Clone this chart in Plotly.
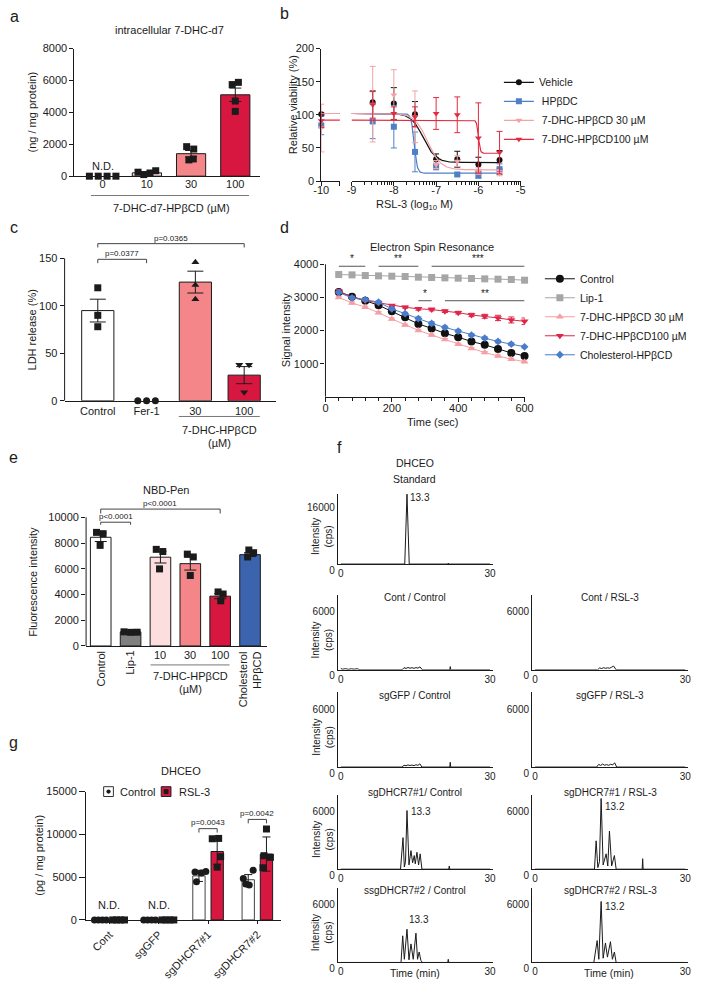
import numpy as np
import plotly.graph_objects as go

W, H = 706, 1000
FONT = "Liberation Sans, Arial, Helvetica, sans-serif"
INK = "#1b1b1b"
CRIMSON = "#d7173f"
SALMON = "#f4868a"
PINK = "#fcdede"
CHOL_BLUE = "#3b63ae"
LIP_GRAY = "#808080"

# ===================== DATA =====================
# (a) intracellular 7-DHC-d7 (ng / mg protein)
a_doses = ["0", "10", "30", "100"]
a_mean = [None, 210, 1410, 5100]
a_sem = [None, 60, 200, 420]
a_pts_0 = [0, 0, 0, 0]
a_pts_10 = [250, 100, 200, 340]
a_pts_30 = [1850, 1700, 1020, 1080]
a_pts_100 = [5740, 5880, 4710, 4060]

# (b) relative viability vs RSL-3 (log10 M)
b_logx = [-10, -8.5, -8, -7.5, -7, -6.5, -6, -5.5]
b_vehicle = [101, 119, 117, 101, 33, 33, 25, 32]
b_vehicle_err = [2, 17, 24, 19, 8, 12, 11, 14]
b_hpbdc = [84, 90, 82, 44, 22, 10, 8, 18]
b_hpbdc_err = [14, 26, 32, 30, 5, 2, 3, 8]
b_dhc30 = [80, 116, 130, 97, 25, 30, 15, 12]
b_dhc30_err = [36, 57, 38, 39, 6, 8, 5, 4]
b_dhc100 = [91, 115, 102, 97, 102, 100, 65, 43]
b_dhc100_err = [10, 20, 10, 15, 24, 27, 53, 32]
# fitted 4-parameter curves: top, bottom, logIC50, Hill slope
b_fit_vehicle = [102, 28, -7.30, 3.0]
b_fit_hpbdc = [102, 12, -7.52, 12.0]
b_fit_dhc30 = [102, 17, -7.20, 2.8]
b_fit_dhc100 = [92, 42, -6.00, 20.0]
b_names = ["Vehicle", " HPβDC", " 7-DHC-HPβCD 30 µM", " 7-DHC-HPβCD100 µM"]

# (c) LDH release (%)
c_groups = ["Control", "Fer-1", "30", "100"]
c_mean = [95, None, 125, 27]
c_sem = [12, None, 11.5, 9]
c_pts_control = [119, 90, 78]
c_pts_fer1 = [0, 0, 0]
c_pts_30 = [146, 122, 107]
c_pts_100 = [38, 38, 9]

# (d) Electron spin resonance signal
d_time = [40, 80, 120, 160, 200, 240, 280, 320, 360, 400, 440, 480, 520, 560, 600]
d_control = [3160, 3020, 2900, 2765, 2580, 2400, 2200, 2065, 1915, 1800, 1670, 1570, 1440, 1325, 1235]
d_control_err = [40, 40, 40, 40, 40, 40, 40, 40, 45, 45, 50, 55, 60, 65, 70]
d_lip1 = [3690, 3680, 3660, 3650, 3640, 3630, 3610, 3600, 3590, 3580, 3570, 3560, 3550, 3540, 3520]
d_lip1_err = [20, 20, 20, 20, 20, 20, 20, 20, 20, 20, 20, 20, 20, 20, 20]
d_dhc30 = [3000, 2835, 2705, 2540, 2350, 2165, 2005, 1865, 1730, 1590, 1460, 1335, 1235, 1135, 1060]
d_dhc30_err = [30, 30, 30, 30, 30, 30, 30, 30, 30, 30, 30, 30, 30, 30, 30]
d_dhc100 = [3200, 3000, 2905, 2835, 2755, 2705, 2655, 2635, 2585, 2540, 2470, 2430, 2380, 2320, 2280]
d_dhc100_err = [30, 30, 30, 30, 30, 30, 40, 40, 40, 40, 50, 60, 80, 90, 100]
d_chol = [3150, 2985, 2935, 2855, 2655, 2510, 2360, 2215, 2095, 1985, 1865, 1770, 1670, 1590, 1510]
d_chol_err = [30, 30, 30, 40, 40, 40, 50, 50, 40, 40, 40, 40, 40, 40, 40]
d_names = ["Control", "Lip-1", "7-DHC-HPβCD 30 µM", "7-DHC-HPβCD100 µM", "Cholesterol-HPβCD"]

# (e) NBD-Pen fluorescence intensity
e_groups = ["Control", "Lip-1", "10", "30", "100", "Cholesterol<br>HPβCD"]
e_mean = [8450, 1100, 6900, 6400, 3870, 7100]
e_sem = [330, 30, 450, 500, 200, 150]
e_pts_control = [8830, 8730, 7820]
e_pts_lip1 = [1100, 1060, 1070]
e_pts_10 = [7510, 7340, 5990]
e_pts_30 = [7140, 6920, 5480]
e_pts_100 = [4200, 4040, 3510]
e_pts_chol = [7460, 7250, 6920]

# (f) DHCEO chromatograms: time (min), intensity (cps)
f_std_t = [0, 12.85, 13.3, 13.75, 21.5, 21.6, 21.7, 30]
f_std_i = [0, 0, 17900, 0, 0, 250, 0, 0]
f_cont_ctrl_t = [0, 0.4, 0.9, 1.5, 2.1, 2.7, 3.3, 3.8, 12.3, 12.7, 13.1, 13.5, 13.9, 14.3, 14.7, 15.1, 15.5, 15.9, 16.4, 21.9, 22.0, 22.1, 30]
f_cont_ctrl_i = [120, 60, 110, 50, 100, 60, 110, 0, 0, 200, 130, 220, 150, 200, 140, 210, 160, 280, 0, 0, 300, 0, 0]
f_cont_rsl_t = [0, 12.5, 12.9, 13.3, 13.7, 14.1, 14.5, 14.9, 15.3, 15.7, 16.2, 30]
f_cont_rsl_i = [0, 0, 180, 120, 200, 140, 190, 150, 250, 350, 0, 0]
f_gfp_ctrl_t = [0, 12.3, 12.7, 13.1, 13.5, 13.9, 14.3, 14.7, 15.1, 15.5, 15.9, 16.3, 21.9, 22.0, 22.1, 30]
f_gfp_ctrl_i = [0, 0, 170, 120, 200, 140, 190, 130, 220, 160, 300, 0, 0, 450, 0, 0]
f_gfp_rsl_t = [0, 12.3, 12.7, 13.1, 13.5, 13.9, 14.3, 14.7, 15.1, 15.5, 15.9, 16.3, 30]
f_gfp_rsl_i = [0, 0, 250, 150, 280, 170, 230, 160, 260, 200, 400, 0, 0]
f_sg1_ctrl_t = [0, 12.0, 12.5, 12.77, 13.0, 13.3, 13.7, 14.1, 14.43, 14.76, 14.96, 15.3, 15.63, 15.95, 16.3, 21.7, 21.8, 21.9, 30]
f_sg1_ctrl_i = [0, 0, 2960, 200, 700, 5500, 400, 1740, 600, 1280, 500, 1590, 400, 1440, 0, 0, 300, 0, 0]
f_sg1_rsl_t = [0, 11.87, 12.2, 12.54, 12.87, 13.2, 13.6, 14.2, 14.53, 14.86, 15.3, 15.85, 16.2, 21.4, 21.5, 21.6, 30]
f_sg1_rsl_i = [0, 0, 2660, 150, 700, 6630, 400, 1440, 300, 3580, 300, 1280, 0, 0, 980, 0, 0]
f_sg2_ctrl_t = [0, 12.1, 12.44, 12.77, 13.3, 13.7, 14.1, 14.56, 15.1, 15.42, 15.75, 16.08, 16.4, 21.5, 21.6, 21.7, 30]
f_sg2_ctrl_i = [0, 0, 2500, 300, 3120, 250, 1740, 300, 2750, 300, 980, 200, 0, 0, 300, 0, 0]
f_sg2_rsl_t = [0, 11.74, 12.4, 12.74, 13.2, 13.6, 14.06, 14.46, 15.06, 15.45, 15.85, 16.2, 30]
f_sg2_rsl_i = [0, 0, 2050, 300, 5720, 400, 1830, 500, 1950, 300, 980, 0, 0]
f_titles = ["Cont / Control", "Cont / RSL-3", "sgGFP / Control", "sgGFP / RSL-3",
            "sgDHCR7#1/ Control", "sgDHCR7#1 / RSL-3", "ssgDHCR7#2 / Control", "sgDHCR7#2 / RSL-3"]

# (g) DHCEO (pg / mg protein)
g_groups = ["Cont", "sgGFP", "sgDHCR7#1", "sgDHCR7#2"]
g_ctrl_mean = [None, None, 5150, 4700]
g_ctrl_sd = [None, None, 650, 600]
g_rsl_mean = [None, None, 8000, 7700]
g_rsl_sd = [None, None, 1500, 2000]
g_ctrl_pts_cont = [0, 0, 0, 0]
g_ctrl_pts_gfp = [0, 0, 0, 0]
g_ctrl_pts_sg1 = [5600, 5500, 5650, 4450]
g_ctrl_pts_sg2 = [5800, 4850, 4080, 4190]
g_rsl_pts_cont = [0, 0, 0, 0]
g_rsl_pts_gfp = [0, 0, 0, 0]
g_rsl_pts_sg1 = [9490, 9530, 7390, 6170]
g_rsl_pts_sg2 = [10630, 7510, 7320, 6100]

# ===================== HELPERS =====================
fig = go.Figure()
LAY = {}
SH = []
AN = []


def xdom(rng, zero_px, k):
    return [(zero_px + rng[0] * k) / W, (zero_px + rng[1] * k) / W]


def ydom(rng, zero_px, k):
    return [1 - (zero_px - rng[0] * k) / H, 1 - (zero_px - rng[1] * k) / H]


def pdom_x(p0, p1):
    return [p0 / W, p1 / W]


def pdom_y(top, bot):
    return [1 - bot / H, 1 - top / H]


BASE_AX = dict(showline=True, linecolor=INK, linewidth=1, showgrid=False, zeroline=False,
               fixedrange=True, ticks="", tickcolor=INK, tickwidth=1,
               tickfont=dict(size=11, color=INK, family=FONT))


def set_x(i, rng, dom, anchor, **kw):
    d = dict(BASE_AX, range=rng, domain=dom, anchor=anchor)
    d.update(kw)
    LAY["xaxis" if i == 1 else "xaxis%d" % i] = d


def set_y(i, rng, dom, anchor, **kw):
    d = dict(BASE_AX, range=rng, domain=dom, anchor=anchor)
    d.update(kw)
    LAY["yaxis" if i == 1 else "yaxis%d" % i] = d


def note(text, x, y, size=11, **kw):
    d = dict(text=text, x=x / W, y=1 - y / H, xref="paper", yref="paper", showarrow=False,
             font=dict(size=size, color=INK, family=FONT), xanchor="center", yanchor="middle")
    d.update(kw)
    AN.append(d)


def dnote(text, xa, ya, x, y, size=8, **kw):
    d = dict(text=text, x=x, y=y, xref=xa, yref=ya, showarrow=False,
             font=dict(size=size, color="#222222", family=FONT), xanchor="center", yanchor="middle")
    d.update(kw)
    AN.append(d)


def pline(x0, y0, x1, y1, w=1, color="#555"):
    SH.append(dict(type="line", xref="paper", yref="paper", x0=x0 / W, x1=x1 / W,
                   y0=1 - y0 / H, y1=1 - y1 / H, line=dict(color=color, width=w)))


def prect(x0, y0, x1, y1, fill, line="#222", w=1):
    SH.append(dict(type="rect", xref="paper", yref="paper", x0=x0 / W, x1=x1 / W,
                   y0=1 - y1 / H, y1=1 - y0 / H, fillcolor=fill, line=dict(color=line, width=w)))


def pcircle(cx, cy, r, fill):
    SH.append(dict(type="circle", xref="paper", yref="paper", x0=(cx - r) / W, x1=(cx + r) / W,
                   y0=1 - (cy + r) / H, y1=1 - (cy - r) / H, fillcolor=fill, line=dict(width=0)))


def bracket(xa, ya, x0, x1, y, drop, color="#444"):
    SH.append(dict(type="path", xref=xa, yref=ya,
                   path="M %f,%f L %f,%f L %f,%f L %f,%f" % (x0, y - drop, x0, y, x1, y, x1, y - drop),
                   line=dict(color=color, width=1)))


def spine(xa, ya, top):
    SH.append(dict(type="line", xref=xa + " domain", yref=ya, x0=0, x1=0, y0=0, y1=top,
                   line=dict(color=INK, width=1)))


def bars(xa, ya, xs, means, errs, colors, width, cap):
    fig.add_trace(go.Bar(x=xs, y=means, width=width,
                         marker=dict(color=colors, line=dict(color=INK, width=1)),
                         error_y=dict(type="data", array=errs, color=INK, thickness=1, width=cap),
                         xaxis=xa, yaxis=ya, showlegend=False, hoverinfo="skip"))


def points(xa, ya, center, jit, vals, symbol, size=7):
    fig.add_trace(go.Scatter(x=[center + j for j in jit], y=vals, mode="markers",
                             marker=dict(symbol=symbol, size=size, color=INK, line=dict(width=0)),
                             xaxis=xa, yaxis=ya, cliponaxis=False, showlegend=False, hoverinfo="skip"))


# ===================== (a) =====================
a_x = list(range(len(a_doses)))
set_x(1, [-0.64, 3.55], xdom([-0.64, 3.55], 97, 45.3), "y", tickvals=a_x, ticktext=a_doses,
      ticklabelstandoff=-2)
set_y(1, [0, 8000], ydom([0, 8000], 173.3, 130 / 8000), "x",
      tickvals=[0, 2000, 4000, 6000, 8000], tickformat="d", ticks="outside", ticklen=4)
bars("x", "y", a_x, a_mean, a_sem, ["white", PINK, SALMON, CRIMSON], 0.66, 6)
for i, pts, jit in zip(a_x, [a_pts_0, a_pts_10, a_pts_30, a_pts_100],
                       [[-0.3, -0.1, 0.1, 0.3], [-0.2, -0.07, 0.07, 0.2],
                        [-0.1, 0.06, -0.05, 0.05], [-0.07, 0.07, 0.0, 0.0]]):
    points("x", "y", i, jit, pts, "square", 7)
dnote("N.D.", "x", "y", 0, 620, size=11)
note("intracellular 7-DHC-d7", 165, 24, 11)
note("(ng / mg protein)", 25, 108, 11, textangle=-90)
pline(85, 193, 247, 193, 1, "#777")
note("7-DHC-d7-HPβCD (µM)", 168, 206, 11)

# ===================== (b) =====================
b_minor = [d + np.log10(m) for d in range(-9, -5) for m in range(2, 10)]
set_x(2, [-10, -9.56], xdom([-10, -9.56], 754.3, 43.33), "y2",
      tickvals=[-10], ticktext=["-10"], ticks="outside", ticklen=4, ticklabelstandoff=-5,
      minor=dict(tickmode="array", tickvals=[-9.56], ticks="outside", ticklen=4, tickcolor=INK))
set_x(3, [-9, -5], xdom([-9, -5], 742, 43.33), "y2",
      tickvals=[-9, -8, -7, -6, -5], ticktext=["-9", "-8", "-7", "-6", "-5"], ticks="outside", ticklen=4,
      ticklabelstandoff=-5,
      minor=dict(tickmode="array", tickvals=b_minor, ticks="outside", ticklen=2.5, tickcolor=INK))
set_y(2, [0, 200], ydom([0, 200], 178.3, 0.675), "x2",
      tickvals=[0, 50, 100, 150, 200], ticks="outside", ticklen=4)

b_specs = [
    (b_names[0], b_vehicle, b_vehicle_err, b_fit_vehicle, "#111111", "circle"),
    (b_names[1], b_hpbdc, b_hpbdc_err, b_fit_hpbdc, "#4f80c6", "square"),
    (b_names[2], b_dhc30, b_dhc30_err, b_fit_dhc30, "#f4a2a7", "triangle-down"),
    (b_names[3], b_dhc100, b_dhc100_err, b_fit_dhc100, "#e42a3f", "triangle-down"),
]
for name, vals, errs, fit, col, sym in b_specs:
    top, bottom, logic50, hill = fit
    for xa, lo, hi in (("x2", -10, -9.56), ("x3", -9, -5.5)):
        xs = np.linspace(lo, hi, 300)
        ys = bottom + (top - bottom) / (1 + 10 ** ((xs - logic50) * hill))
        fig.add_trace(go.Scatter(x=xs, y=ys, mode="lines", line=dict(color=col, width=1.2),
                                 xaxis=xa, yaxis="y2", showlegend=False, hoverinfo="skip"))
    fig.add_trace(go.Scatter(x=b_logx[:1], y=vals[:1], mode="markers",
                             error_y=dict(type="data", array=errs[:1], color=col, thickness=1, width=3),
                             marker=dict(symbol=sym, size=6, color=col), xaxis="x2", yaxis="y2",
                             cliponaxis=False, showlegend=False, hoverinfo="skip"))
    fig.add_trace(go.Scatter(x=b_logx[1:], y=vals[1:], mode="markers",
                             error_y=dict(type="data", array=errs[1:], color=col, thickness=1, width=3),
                             marker=dict(symbol=sym, size=6, color=col), xaxis="x3", yaxis="y2",
                             cliponaxis=False, showlegend=False, hoverinfo="skip"))
    fig.add_trace(go.Scatter(x=[None], y=[None], mode="lines+markers", name=name,
                             line=dict(color=col, width=1.2), marker=dict(symbol=sym, size=6, color=col),
                             xaxis="x3", yaxis="y2", legend="legend", showlegend=True))
note("Relative viability (%)", 292, 100, 11, textangle=-90)
note("RSL-3 (log<sub>10</sub> M)", 417, 203, 11)

# ===================== (c) =====================
c_x = list(range(len(c_groups)))
set_x(4, [-0.68, 3.66], xdom([-0.68, 3.66], 92, 50), "y3", tickvals=c_x, ticktext=c_groups)
set_y(3, [0, 180], ydom([0, 180], 402, 0.9667), "x4", showline=False,
      tickvals=[0, 50, 100, 150], ticks="outside", ticklen=4)
spine("x4", "y3", 150)
bars("x4", "y3", c_x, c_mean, c_sem, ["white", "white", SALMON, CRIMSON], 0.66, 8)
points("x4", "y3", 0, [0, 0, 0], c_pts_control, "square", 7)
points("x4", "y3", 1, [-0.18, 0, 0.18], c_pts_fer1, "circle", 7)
points("x4", "y3", 2, [0, 0, 0], c_pts_30, "triangle-up", 7)
points("x4", "y3", 3, [-0.1, 0.1, 0], c_pts_100, "triangle-down", 7)
bracket("x4", "y3", 0, 1, 149, 4)
dnote("p=0.0377", "x4", "y3", 0.5, 155)
bracket("x4", "y3", 0, 3, 165.5, 4)
dnote("p=0.0365", "x4", "y3", 1.5, 171)
note("LDH release (%)", 25, 330, 11, textangle=-90)
pline(175, 418, 258, 418, 1, "#777")
note("7-DHC-HPβCD", 217, 432, 11)
note("(µM)", 217, 445, 11)

# ===================== (d) =====================
d_minor = list(range(0, 601, 40))
set_x(5, [0, 600], xdom([0, 600], 325.3, 0.34), "y4", tickvals=[0, 200, 400, 600],
      ticks="outside", ticklen=4, ticklabelstandoff=-3,
      minor=dict(tickmode="array", tickvals=d_minor, ticks="outside", ticklen=3, tickcolor=INK))
set_y(4, [0, 4400], ydom([0, 4400], 398, 0.03375), "x5", showline=False,
      tickvals=[1000, 2000, 3000, 4000], tickformat="d", ticks="outside", ticklen=4)
spine("x5", "y4", 4000)
d_specs = [
    (d_names[0], d_control, d_control_err, "#111111", "circle", 8),
    (d_names[1], d_lip1, d_lip1_err, "#a6a6a6", "square", 7),
    (d_names[2], d_dhc30, d_dhc30_err, "#f59ea3", "triangle-up", 7),
    (d_names[3], d_dhc100, d_dhc100_err, "#df2647", "triangle-down", 7),
    (d_names[4], d_chol, d_chol_err, "#4a7ccc", "diamond", 6),
]
for name, vals, errs, col, sym, sz in d_specs:
    fig.add_trace(go.Scatter(x=d_time, y=vals, mode="lines+markers", name=name,
                             error_y=dict(type="data", array=errs, color=col, thickness=1, width=3),
                             line=dict(color=col, width=1), marker=dict(symbol=sym, size=sz, color=col),
                             xaxis="x5", yaxis="y4", legend="legend2", showlegend=True, cliponaxis=False))
for x0, x1, y, stars in [(40, 120, 3940, "*"), (160, 280, 3940, "**"), (320, 600, 3940, "***"),
                         (280, 320, 2900, "*"), (360, 600, 2900, "**")]:
    SH.append(dict(type="line", xref="x5", yref="y4", x0=x0, x1=x1, y0=y, y1=y,
                   line=dict(color="#555", width=1)))
    dnote(stars, "x5", "y4", (x0 + x1) / 2, y, size=10, yanchor="bottom")
note("Electron Spin Resonance", 434, 245, 11)
note("Signal intensity", 285, 330, 11, textangle=-90)
note("Time (sec)", 435, 424, 11)

# ===================== (e) =====================
e_x = list(range(len(e_groups)))
set_x(6, [-0.49, 5.56], xdom([-0.49, 5.56], 95, 30.6), "y5", showticklabels=False)
set_y(5, [0, 11800], ydom([0, 11800], 651.7, 0.0131), "x6", showline=False,
      tickvals=[0, 2000, 4000, 6000, 8000, 10000], tickformat="d", ticks="outside", ticklen=4)
spine("x6", "y5", 10000)
bars("x6", "y5", e_x, e_mean, e_sem, ["white", LIP_GRAY, PINK, SALMON, CRIMSON, CHOL_BLUE], 0.69, 6)
for i, pts, jit in zip(e_x, [e_pts_control, e_pts_lip1, e_pts_10, e_pts_30, e_pts_100, e_pts_chol],
                       [[-0.14, 0.08, -0.02], [-0.22, 0, 0.22], [-0.14, 0.08, -0.03],
                        [-0.1, 0.1, 0], [-0.07, 0.1, 0.02], [-0.04, 0.12, -0.08]]):
    points("x6", "y5", i, jit, pts, "square", 7)
for i in (0, 1, 5):
    AN.append(dict(text=e_groups[i], x=i, y=1 - 655 / H, xref="x6", yref="paper", showarrow=False,
                   textangle=-90, xanchor="center", yanchor="top", align="right",
                   font=dict(size=11, color=INK, family=FONT)))
for i in (2, 3, 4):
    AN.append(dict(text=e_groups[i], x=i, y=1 - 661 / H, xref="x6", yref="paper", showarrow=False,
                   xanchor="center", yanchor="middle", font=dict(size=11, color=INK, family=FONT)))
bracket("x6", "y5", 0, 1, 9620, 200)
dnote("p<0.0001", "x6", "y5", 0.5, 10050)
bracket("x6", "y5", 0, 4, 10640, 340)
dnote("p<0.0001", "x6", "y5", 2, 11070)
note("NBD-Pen", 162, 493, 11)
note("Fluorescence intensity", 26, 586, 11, textangle=-90)
pline(146, 671, 227, 671, 1, "#777")
note("7-DHC-HPβCD", 187, 682, 11)
note("(µM)", 187, 696, 11)

# ===================== (g) =====================
g_x = list(range(len(g_groups)))
G_OFF = 0.185
set_x(7, [-0.475, 3.485], xdom([-0.475, 3.485], 104, 50.5), "y6", tickvals=g_x, ticktext=g_groups,
      tickangle=-45, ticks="outside", ticklen=3)
set_y(6, [0, 15000], ydom([0, 15000], 930.7, 0.008713), "x7",
      tickvals=[0, 5000, 10000, 15000], tickformat="d", ticks="outside", ticklen=6)
fig.add_trace(go.Bar(x=[i - G_OFF for i in g_x], y=g_ctrl_mean, width=0.25, name="Control",
                     marker=dict(color="white", line=dict(color="#444", width=1)),
                     error_y=dict(type="data", array=g_ctrl_sd, color=INK, thickness=1, width=4),
                     xaxis="x7", yaxis="y6", showlegend=False, hoverinfo="skip"))
fig.add_trace(go.Bar(x=[i + G_OFF for i in g_x], y=g_rsl_mean, width=0.25, name="RSL-3",
                     marker=dict(color=CRIMSON, line=dict(color=INK, width=1)),
                     error_y=dict(type="data", array=g_rsl_sd, color=INK, thickness=1, width=4),
                     xaxis="x7", yaxis="y6", showlegend=False, hoverinfo="skip"))
g_jit_nd = [-0.12, -0.04, 0.04, 0.12]
for i, pts, jit in zip(g_x, [g_ctrl_pts_cont, g_ctrl_pts_gfp, g_ctrl_pts_sg1, g_ctrl_pts_sg2],
                       [g_jit_nd, g_jit_nd, [-0.08, 0.05, 0.14, -0.05], [0.1, -0.1, 0.02, -0.05]]):
    points("x7", "y6", i - G_OFF, jit, pts, "circle", 7)
for i, pts, jit in zip(g_x, [g_rsl_pts_cont, g_rsl_pts_gfp, g_rsl_pts_sg1, g_rsl_pts_sg2],
                       [g_jit_nd, g_jit_nd, [-0.1, 0.03, 0.07, 0.0], [0.0, -0.05, 0.08, -0.07]]):
    points("x7", "y6", i + G_OFF, jit, pts, "square", 7)
for i in (0, 1):
    dnote("N.D.", "x7", "y6", i, 1720, size=11)
bracket("x7", "y6", 2 - G_OFF, 2 + G_OFF, 10670, 460)
dnote("p=0.0043", "x7", "y6", 2, 11360)
bracket("x7", "y6", 3 - G_OFF, 3 + G_OFF, 11750, 460)
dnote("p=0.0042", "x7", "y6", 3, 12400)
note("DHCEO", 177, 779, 11)
note("(pg / mg protein)", 32, 865, 11, textangle=-90)
# legend (Control / RSL-3)
prect(98, 795, 108, 805, "white", "#333")
pcircle(103, 800, 2.2, INK)
note("Control", 113, 800, 11, xanchor="left")
prect(157, 795, 167, 805, CRIMSON, "#222")
prect(160, 798, 164, 802, INK, INK)
note("RSL-3", 173, 800, 11, xanchor="left")

# ===================== (f) =====================
f_series = [(f_std_t, f_std_i), (f_cont_ctrl_t, f_cont_ctrl_i), (f_cont_rsl_t, f_cont_rsl_i),
            (f_gfp_ctrl_t, f_gfp_ctrl_i), (f_gfp_rsl_t, f_gfp_rsl_i),
            (f_sg1_ctrl_t, f_sg1_ctrl_i), (f_sg1_rsl_t, f_sg1_rsl_i),
            (f_sg2_ctrl_t, f_sg2_ctrl_i), (f_sg2_rsl_t, f_sg2_rsl_i)]
f_cols = [(338, 497), (537, 697)]
f_rows = [(496.7, 568.3), (600, 676), (699, 775), (803, 879), (898, 974)]
f_title_y = [None, 602, 702, 801, 901]
FT = dict(size=10, color=INK, family=FONT)
for k, (ts, vs) in enumerate(f_series):
    xi, yi = 8 + k, 7 + k
    if k == 0:
        col, row = 0, 0
        yr, yt = [0, 18000], [0, 16000]
    else:
        col, row = (k - 1) % 2, 1 + (k - 1) // 2
        yr, yt = [0, 7000], [0, 6000]
    set_x(xi, [-0.6, 30.6], pdom_x(*f_cols[col]), "y%d" % yi, tickvals=[0, 30], ticktext=["0", "30"],
          tickfont=FT)
    set_y(yi, yr, pdom_y(*f_rows[row]), "x%d" % xi, tickvals=yt, ticktext=[str(v) for v in yt],
          tickfont=FT, ticklabelshift=6)
    fig.add_trace(go.Scatter(x=ts, y=vs, mode="lines", line=dict(color=INK, width=1),
                             xaxis="x%d" % xi, yaxis="y%d" % yi, showlegend=False, hoverinfo="skip"))
    if col == 0:
        top, bot = f_rows[row]
        note("Intensity<br>(cps)", 322, (top + bot) / 2 + 8, 10, textangle=-90)
    if k >= 1:
        cx = (f_cols[col][0] + f_cols[col][1]) / 2
        note(f_titles[k - 1], cx, f_title_y[row], 10)
note("DHCEO", 417, 465, 10.5)
note("Standard", 417, 482, 10.5)
note("Time (min)", 417, 985, 10.5)
note("Time (min)", 616, 985, 10.5)
dnote("13.3", "x8", "y7", 13.3, 16980, size=10, xanchor="left", xshift=1)
dnote("13.3", "x13", "y12", 13.3, 5410, size=10, xanchor="left", xshift=2)
dnote("13.2", "x14", "y13", 13.2, 5900, size=10, xanchor="left", xshift=2)
dnote("13.3", "x15", "y14", 13.3, 4040, size=10, xanchor="left", xshift=0)
dnote("13.2", "x16", "y15", 13.2, 5260, size=10, xanchor="left", xshift=2)

# ===================== panel letters =====================
for letter, x, y in [("a", 7, 11), ("b", 283, 8), ("c", 6, 226), ("d", 283, 226),
                     ("e", 6, 460), ("f", 340, 450), ("g", 6, 750)]:
    note(letter, x, y, 16)

LEG = dict(font=dict(size=10.5, color=INK, family=FONT), bgcolor="rgba(0,0,0,0)", borderwidth=0,
           itemwidth=30, tracegroupgap=0, xanchor="left", yanchor="top", traceorder="normal")
fig.update_layout(
    width=W, height=H, margin=dict(l=0, r=0, t=0, b=0),
    paper_bgcolor="white", plot_bgcolor="rgba(0,0,0,0)",
    barmode="overlay", hovermode=False, showlegend=True,
    font=dict(family=FONT, size=11, color=INK),
    legend=dict(LEG, x=503 / W, y=1 - 63 / H),
    legend2=dict(LEG, x=545 / W, y=1 - 263 / H),
    shapes=SH, annotations=AN,
    **LAY,
)
fig.write_html("out.html", include_plotlyjs=True, config={"displayModeBar": False})
